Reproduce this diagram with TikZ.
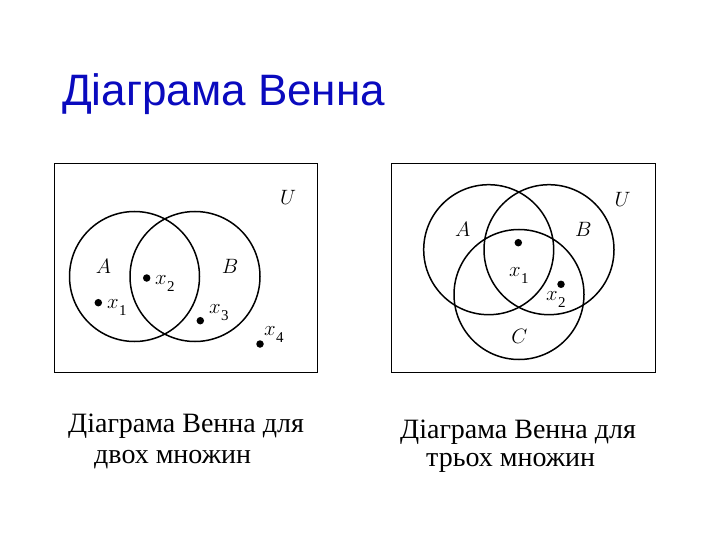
\documentclass[tikz,border=0pt]{standalone}
\usepackage{fontspec}
\setmainfont{Liberation Serif}
\newfontfamily\titlefont{Liberation Sans}
\definecolor{titleblue}{RGB}{10,10,190}
\newcommand{\vx}[1]{$x$\kern0.5pt\raisebox{-7pt}{\fontsize{15}{15}\selectfont #1}}
\begin{document}
\begin{tikzpicture}[x=1pt,y=-1pt,
  frame/.style={draw=black,line width=0.9pt,minimum width=#1,minimum height=209pt,inner sep=0pt},
  venn/.style={draw=black,circle,line width=1.5pt,minimum size=130pt,inner sep=0pt},
  lbl/.style={inner sep=0pt,anchor=base,font=\fontsize{21.5}{21.5}\selectfont},
  xl/.style={inner sep=0pt,anchor=base west,font=\fontsize{21}{21}\selectfont},
  dotpt/.style={circle,fill=black,inner sep=0pt,minimum size=7.5pt},
  captxt/.style={inner sep=0pt,anchor=base west,font=\fontsize{28}{28}\selectfont}]
\useasboundingbox (0,0) rectangle (720,540);
% title
\node[inner sep=0pt,anchor=base west,text=titleblue,font=\titlefont\fontsize{44}{44}\selectfont] (title) at (62,106) {Діаграма Венна};
% left diagram
\node[frame=263pt] (boxL) at (185.5,267.5) {};
\node[venn] (LA) at (134.5,276.5) {};
\node[venn] (LB) at (195,276.5) {};
\node[lbl] (LU) at (288,205) {$U$};
\node[lbl] (LAl) at (103.5,273.3) {$A$};
\node[lbl] (LBl) at (230,273.3) {$B$};
\node[dotpt] (p1) at (98.3,302.7) {};
\node[xl] (x1) at (107,308.3) {\vx{1}};
\node[dotpt] (p2) at (146.7,278) {};
\node[xl] (x2) at (155,284) {\vx{2}};
\node[dotpt] (p3) at (200.3,320.7) {};
\node[xl] (x3) at (209,313.3) {\vx{3}};
\node[dotpt] (p4) at (260,344) {};
\node[xl] (x4) at (264,335) {\vx{4}};
% right diagram
\node[frame=264pt] (boxR) at (523,267.5) {};
\node[venn] (RA) at (488.7,249.7) {};
\node[venn] (RB) at (549,249.7) {};
\node[venn] (RC) at (519,294.5) {};
\node[lbl] (RU) at (622.5,207) {$U$};
\node[lbl] (RAl) at (462.7,236.5) {$A$};
\node[lbl] (RBl) at (583.3,236.5) {$B$};
\node[lbl] (RCl) at (519.3,343.3) {$C$};
\node[dotpt] (q1) at (518.3,242.7) {};
\node[xl] (y1) at (509,276.7) {\vx{1}};
\node[dotpt] (q2) at (561,284.3) {};
\node[xl] (y2) at (546,300) {\vx{2}};
% captions
\node[captxt] (c1a) at (68,432) {Діаграма Венна для};
\node[captxt] (c1b) at (94,463) {двох множин};
\node[captxt] (c2a) at (400,438) {Діаграма Венна для};
\node[captxt] (c2b) at (426,466) {трьох множин};
\end{tikzpicture}
\end{document}
